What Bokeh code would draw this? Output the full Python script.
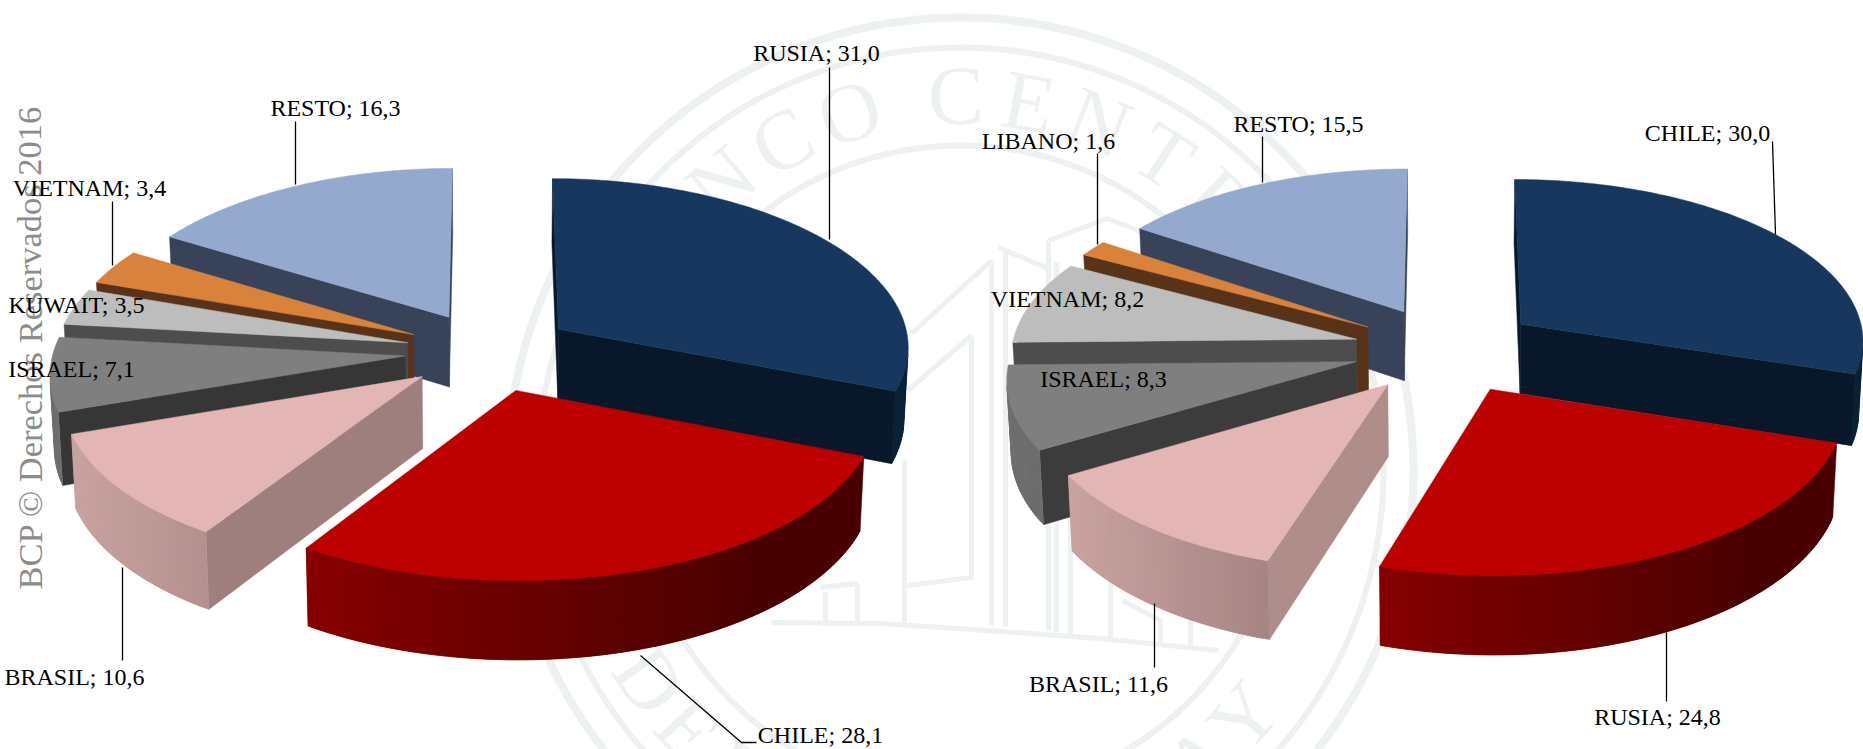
import math
from bokeh.plotting import figure
from bokeh.models import Range1d, ColumnDataSource
from bokeh.core.properties import value
from bokeh.embed import file_html
from bokeh.resources import INLINE

# ---------- data ----------
left_names = ["RUSIA", "CHILE", "BRASIL", "ISRAEL", "KUWAIT", "VIETNAM", "RESTO"]
left_values = [31.0, 28.1, 10.6, 7.1, 3.5, 3.4, 16.3]
right_names = ["CHILE", "RUSIA", "BRASIL", "ISRAEL", "VIETNAM", "LIBANO", "RESTO"]
right_values = [30.0, 24.8, 11.6, 8.3, 8.2, 1.6, 15.5]
seal_top = "BANCO CENTRAL"
seal_bottom = "DEL PARAGUAY"
copyright_text = "BCP © Derechos Reservados 2016"

# ---------- styles: top, radial face, rim left, rim right, by slice position ----------
slice_styles = [
    ("#17375E", "#08182A", "#0E2A47", "#0B2138"),
    ("#BC0000", "#4A0000", "#860000", "#4A0000"),
    ("#E3B5B4", "#9F7F7E", "#C9A3A1", "#9C7C7B"),
    ("#7F7F7F", "#363636", "#6E6E6E", "#666666"),
    ("#BDBDBD", "#4D4D4D", "#777777", "#666666"),
    ("#D9823B", "#58331A", "#8A5020", "#6A3E18"),
    ("#95A9CF", "#38435A", "#47536E", "#38435A"),
]
right_brasil_face = "#AE8D8A"

# ---------- geometry of each pie ----------
LEFT = dict(cx=489, cy=351, rx=352, ry=167, d=71, px=0.095, py=0.085, e=0.24)
RIGHT = dict(cx=1446, cy=349, rx=345, ry=162, d=70.5, px=0.09, py=0.09, e=0.27)
Q = 0.01


def hex2rgb(h):
    return tuple(int(h[i:i + 2], 16) for i in (1, 3, 5))


def mix(a, b, t):
    t = max(0.0, min(1.0, t))
    ca, cb = hex2rgb(a), hex2rgb(b)
    return "#%02x%02x%02x" % tuple(round(x + (y - x) * t) for x, y in zip(ca, cb))


def area(pts):
    return sum(pts[i][0] * pts[(i + 1) % len(pts)][1] - pts[(i + 1) % len(pts)][0] * pts[i][1]
               for i in range(len(pts)))


def pie_faces(values, g, face_override=None):
    total = sum(values)
    spans, a = [], 0.0
    for v in values:
        spans.append((a, a + 360.0 * v / total))
        a += 360.0 * v / total
    paint = [6, 5, 4, 3, 2, 0, 1]
    faces = []

    def proj(u, v, z):
        fx = 1.0 / (1.0 - g["px"] * v)
        fy = 1.0 / (1.0 - g["py"] * v)
        return (g["cx"] + g["rx"] * u * fx * (1 - Q * z), g["cy"] + g["ry"] * v * fy + g["d"] * z * fy)

    for i in paint:
        a0, a1 = spans[i]
        mid = math.radians((a0 + a1) / 2)
        ou, ov = g["e"] * math.sin(mid), -g["e"] * math.cos(mid)
        n = max(3, int((a1 - a0) / 1.0))
        arc = []
        for k in range(n + 1):
            th = math.radians(a0 + (a1 - a0) * k / n)
            arc.append((ou + math.sin(th), ov - math.cos(th)))
        apex = (ou, ov)
        outline = [apex] + arc
        top = [proj(u, v, 0) for u, v in outline]
        s = area(top)
        top_c, face_c, rim_l, rim_r = slice_styles[i]
        if face_override and i in face_override:
            face_c = face_override[i]
        xmin, xmax = min(p[0] for p in top), max(p[0] for p in top)
        ring = outline + [apex]
        last = len(ring) - 2

        def quad_of(A, B):
            return [proj(*A, 0), proj(*B, 0), proj(*B, 1), proj(*A, 1)]

        visible = [area(quad_of(ring[k], ring[k + 1])) * s < 0 for k in range(len(ring) - 1)]
        for k in (0, last):
            if visible[k]:
                quad = quad_of(ring[k], ring[k + 1])
                faces.append(([q[0] for q in quad], [q[1] for q in quad], face_c))
        for k in range(1, last):
            if not visible[k]:
                continue
            # each rim facet reaches under the next one, so the gradient has no seams
            end = k + 2 if (k + 1 < last and visible[k + 1]) else k + 1
            quad = quad_of(ring[k], ring[end])
            xm = (proj(*ring[k], 0)[0] + proj(*ring[k + 1], 0)[0]) / 2
            col = mix(rim_l, rim_r, (xm - xmin) / max(1.0, xmax - xmin) * 1.25)
            faces.append(([q[0] for q in quad], [q[1] for q in quad], col))
        faces.append(([q[0] for q in top], [q[1] for q in top], top_c))
    return faces


p = figure(width=1863, height=749, output_backend="svg", toolbar_location=None,
           x_range=Range1d(0, 1863), y_range=Range1d(749, 0),
           x_axis_location=None, y_axis_location=None,
           min_border=0, outline_line_color=None, background_fill_color="white",
           margin=(0, 0, 0, 0))
p.grid.visible = False

# ---------- seal watermark ----------
SEAL = "#EDF1F1"
sx, sy = 960, 470
for r, w in ((453, 8), (423, 6), (325, 6)):
    p.circle([sx], [sy], radius=r, fill_color=None, line_color=SEAL, line_width=w)

seal_lines = [
    [(771, 622), (880, 623), (986, 630), (1100, 638), (1218, 650)],
    [(991, 260), (991, 625)], [(1005, 250), (1005, 626)],
    [(911, 333), (991, 260)], [(907, 390), (971, 335), (971, 577), (907, 585)],
    [(904, 460), (904, 622)], [(998, 247), (1048, 268)],
    [(1048, 240), (1107, 218), (1164, 240)], [(1048, 240), (1048, 630)], [(1056, 262), (1056, 632)],
    [(1070, 500), (1070, 634)], [(1110, 560), (1110, 637)], [(1122, 600), (1160, 620), (1160, 642)],
    [(820, 587), (857, 583)], [(825, 592), (825, 622)], [(857, 583), (857, 622)],
    [(1190, 610), (1190, 648)],
]
p.multi_line([[q[0] for q in l] for l in seal_lines], [[q[1] for q in l] for l in seal_lines],
             line_color=SEAL, line_width=5)

letters, lx, ly, la = [], [], [], []
R = 375
th = -62.0
for ch in seal_top:
    if ch == " ":
        th += 5.3
        continue
    rad = math.radians(th)
    letters.append(ch); lx.append(sx + R * math.sin(rad)); ly.append(sy - R * math.cos(rad)); la.append(-rad)
    th += 11.2
th = 236.0
for ch in seal_bottom:
    if ch == " ":
        th -= 9.0
        continue
    rad = math.radians(th)
    letters.append(ch); lx.append(sx + R * math.sin(rad)); ly.append(sy - R * math.cos(rad)); la.append(math.pi - rad)
    th -= 9.6
p.text(lx, ly, text=letters, angle=la, text_color=SEAL, text_font=value("Liberation Serif"),
       text_font_size="84px", text_align="center", text_baseline="middle")

p.text([29], [347], text=[copyright_text], angle=[math.pi / 2], text_color="#8C8C8C",
       text_font=value("Liberation Serif"), text_font_size="34.5px",
       text_align="center", text_baseline="middle")

# ---------- pies ----------
faces = pie_faces(left_values, LEFT) + pie_faces(right_values, RIGHT, {2: right_brasil_face, 3: "#3C3C3C"})
src = ColumnDataSource(dict(xs=[f[0] for f in faces], ys=[f[1] for f in faces], c=[f[2] for f in faces]))
p.patches("xs", "ys", source=src, fill_color="c", line_color="c", line_width=0.5)

# ---------- leaders and labels (label layout only) ----------
leaders = [
    [(829, 67), (829, 239)], [(295, 121), (295, 184)], [(112, 201), (112, 265)],
    [(122, 567), (122, 660)], [(640, 655), (741, 742), (756, 742)],
    [(1772, 141), (1775, 234)], [(1262, 136), (1262, 182)], [(1097, 153), (1097, 244)],
    [(1154, 603), (1154, 667)], [(1666, 632), (1666, 701)],
]
p.multi_line([[q[0] for q in l] for l in leaders], [[q[1] for q in l] for l in leaders],
             line_color="black", line_width=1.3)

left_pos = {"RUSIA": (816, 52), "RESTO": (335, 107), "VIETNAM": (89, 187), "KUWAIT": (76, 304),
            "ISRAEL": (71, 368), "BRASIL": (74, 676), "CHILE": (820, 734)}
right_pos = {"CHILE": (1707, 132), "RESTO": (1298, 123), "LIBANO": (1048, 140), "VIETNAM": (1067, 298),
             "ISRAEL": (1103, 378), "BRASIL": (1098, 683), "RUSIA": (1657, 716)}


def fmt(name, val):
    return f"{name}; {val:.1f}".replace(".", ",")


txt, tx, ty = [], [], []
for names, vals, pos in ((left_names, left_values, left_pos), (right_names, right_values, right_pos)):
    for nm, v in zip(names, vals):
        txt.append(fmt(nm, v)); tx.append(pos[nm][0]); ty.append(pos[nm][1])
p.text(tx, ty, text=txt, text_color="black", text_font=value("Liberation Serif"),
       text_font_size="24px", text_align="center", text_baseline="middle")

open("out.html", "w").write(file_html(p, INLINE))
